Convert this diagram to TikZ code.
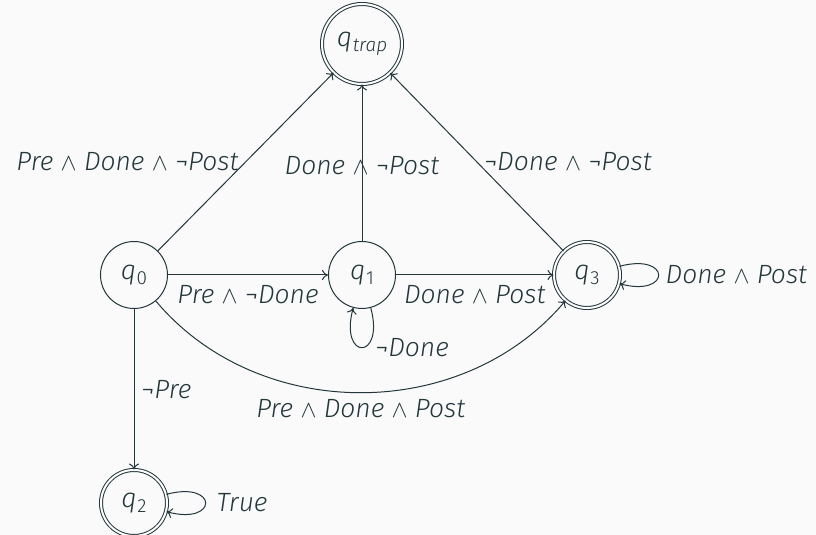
\documentclass[tikz,border=0pt]{standalone}
\usepackage{fontspec}
\setmainfont{Fira Sans}[UprightFont={* Light}, ItalicFont={* Light Italic}]
\usetikzlibrary{arrows.meta}

\definecolor{mteal}{HTML}{23373B}
\definecolor{mback}{HTML}{FAFAFA}
\newcommand{\qname}[1]{\textit{q}\kern0.3pt\raisebox{-0.35ex}{\fontsize{9.5}{10}\selectfont #1}}
\newcommand{\andch}{\ensuremath{\wedge}}

\begin{document}
\begin{tikzpicture}[
    x=0.5pt, y=-0.5pt,
    >={To[length=3pt,width=5pt]},
    every node/.style={font=\fontsize{13.2}{16}\selectfont\itshape, text=mteal},
    qstate/.style={circle, draw=mteal, line width=0.5pt, minimum size=33.5pt, inner sep=1pt, font=\fontsize{13.5}{16}\selectfont},
    accept/.style={qstate, double, double distance=1pt, minimum size=33pt},
    edge/.style={->, draw=mteal, line width=0.5pt}
]
\fill[mback] (0,0) rectangle (816,535);
\useasboundingbox (0,0) rectangle (816,535);

    \node[qstate] (q0) at (134,275) {\qname{0}};
    \node[qstate] (q1) at (362,275) {\qname{1}};
    \node[accept] (q3) at (587,275) {\qname{3}};
    \node[accept, minimum size=40pt] (qt) at (362,44) {\qname{\textit{trap}}};
    \node[accept] (q2) at (134,503) {\qname{2}};

    \draw[edge] (q0) -- node[midway, left] {Pre \andch{} Done \andch{} ¬Post} (qt);
    \draw[edge] (q1) -- node[midway, yshift=-1.5pt] {Done \andch{} ¬Post} (qt);
    \draw[edge] (q3) -- node[midway, right] {¬Done \andch{} ¬Post} (qt);
    \draw[edge] (q0) -- node[midway, below, yshift=-1.5pt] {Pre \andch{} ¬Done} (q1);
    \draw[edge] (q1) -- node[midway, below, yshift=-1.5pt] {Done \andch{} Post} (q3);
    \draw[edge] (q0) to[bend right=50] node[midway, below] {Pre \andch{} Done \andch{} Post} (q3);
    \draw[edge] (q0) -- node[midway, right] {¬Pre} (q2);

    \draw[edge] (q1) to[out=-75, in=-105, looseness=8] node[midway, right, xshift=3pt] {¬Done} (q1);
    \draw[edge] (q3) to[out=15, in=-15, looseness=8] node[midway, right] {Done \andch{} Post} (q3);
    \draw[edge] (q2) to[out=15, in=-15, looseness=8] node[midway, right, xshift=2pt] {True} (q2);
\end{tikzpicture}
\end{document}
